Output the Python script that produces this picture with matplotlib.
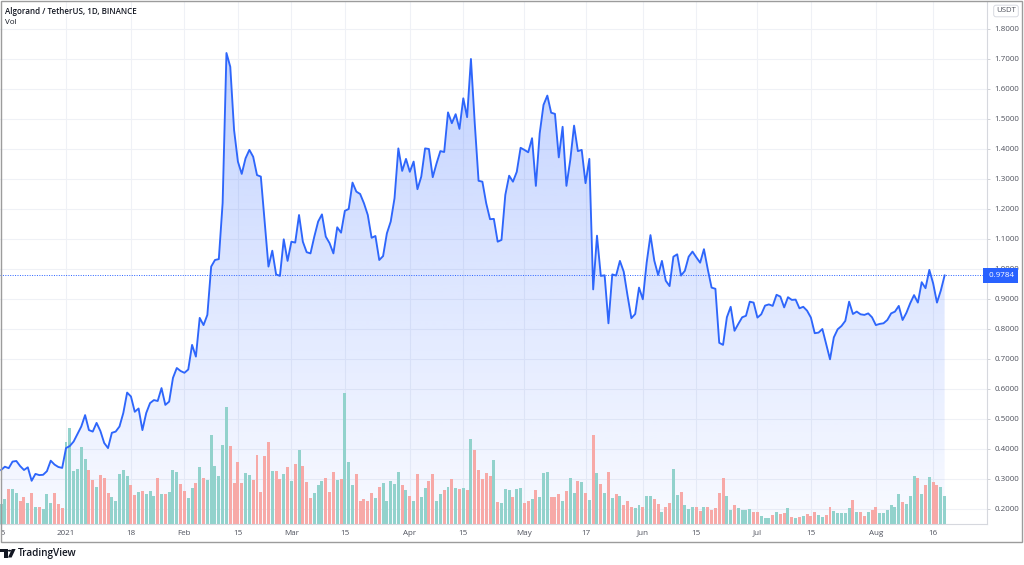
import numpy as np
import pandas as pd
import matplotlib
matplotlib.use("Agg")
import matplotlib.pyplot as plt
import matplotlib.dates as mdates
from matplotlib.patches import Rectangle, Polygon, Circle
from matplotlib.colors import LinearSegmentedColormap
import matplotlib.transforms as mtransforms

plt.rcParams['font.family'] = ['Open Sans', 'DejaVu Sans']

# ---------------- data ----------------
start_date = '2020-12-15'

close = [
    0.330, 0.341, 0.336, 0.358, 0.360, 0.343, 0.330, 0.339, 0.294, 0.317, 0.313, 0.314, 0.326, 0.361, 0.348, 0.340, 0.337,
    0.403, 0.410, 0.425, 0.450, 0.475, 0.513, 0.463, 0.458, 0.487, 0.460,
    0.420, 0.403, 0.454, 0.458, 0.475, 0.520, 0.588, 0.575, 0.524, 0.535,
    0.463, 0.520, 0.553, 0.563, 0.560, 0.603, 0.547, 0.558, 0.637, 0.670,
    0.660, 0.654, 0.665, 0.747, 0.708, 0.837, 0.813, 0.847, 1.008, 1.030,
    1.033, 1.220, 1.720, 1.674, 1.463, 1.358, 1.317, 1.369, 1.397, 1.374,
    1.313, 1.308, 1.160, 1.008, 1.061, 0.982, 0.977, 1.099, 1.027, 1.091,
    1.088, 1.180, 1.091, 1.056, 1.052, 1.108, 1.158, 1.182, 1.108, 1.086,
    1.052, 1.139, 1.121, 1.194, 1.200, 1.288, 1.258, 1.250, 1.219, 1.180,
    1.104, 1.110, 1.030, 1.043, 1.119, 1.158, 1.236, 1.402, 1.327, 1.367,
    1.324, 1.358, 1.266, 1.308, 1.402, 1.400, 1.306, 1.352, 1.393, 1.390,
    1.522, 1.486, 1.516, 1.467, 1.569, 1.506, 1.700, 1.486, 1.294, 1.291,
    1.219, 1.166, 1.167, 1.091, 1.097, 1.247, 1.311, 1.291, 1.324, 1.404,
    1.397, 1.389, 1.436, 1.277, 1.452, 1.547, 1.578, 1.521, 1.517, 1.372,
    1.474, 1.277, 1.363, 1.478, 1.393, 1.397, 1.286, 1.367, 0.932, 1.111,
    0.977, 0.979, 0.819, 0.982, 0.978, 1.027, 0.991, 0.911, 0.836, 0.850,
    0.938, 0.899, 1.021, 1.113, 1.028, 0.980, 1.027, 0.961, 0.943, 1.041,
    1.049, 0.978, 0.994, 1.041, 1.058, 1.039, 1.021, 1.066, 0.999, 0.938,
    0.934, 0.754, 0.747, 0.839, 0.874, 0.794, 0.817, 0.839, 0.844, 0.891,
    0.888, 0.838, 0.849, 0.878, 0.882, 0.877, 0.914, 0.908, 0.872, 0.906,
    0.897, 0.898, 0.869, 0.874, 0.861, 0.838, 0.786, 0.788, 0.800, 0.750,
    0.699, 0.772, 0.799, 0.810, 0.827, 0.891, 0.850, 0.858, 0.849, 0.847,
    0.852, 0.839, 0.813, 0.817, 0.819, 0.830, 0.852, 0.858, 0.877, 0.830,
    0.854, 0.886, 0.913, 0.888, 0.956, 0.936, 0.997, 0.952, 0.888, 0.928,
    0.9784,
]

volume = [
    20, 25, 35, 35, 31, 23, 27, 21, 31, 17, 17, 15, 30, 21, 31, 20, 16,
    82, 96, 53, 55, 77, 65, 54, 44, 37, 49,
    46, 31, 27, 23, 50, 54, 48, 39, 29, 32,
    33, 30, 33, 28, 46, 30, 30, 32, 54, 52,
    40, 33, 26, 36, 41, 57, 46, 44, 89, 58,
    48, 79, 117, 78, 41, 62, 41, 51, 49, 44,
    69, 32, 68, 82, 53, 53, 45, 50, 57, 43,
    60, 74, 58, 42, 26, 31, 39, 43, 46, 32,
    52, 44, 45, 131, 62, 39, 50, 23, 25, 23,
    31, 26, 37, 41, 23, 43, 40, 52, 39, 34,
    28, 23, 50, 27, 36, 43, 50, 23, 30, 34,
    37, 45, 36, 35, 36, 34, 85, 74, 54, 45,
    51, 48, 64, 22, 21, 35, 34, 27, 35, 36,
    21, 23, 25, 34, 27, 51, 52, 27, 27, 30,
    23, 33, 46, 31, 43, 42, 31, 24, 89, 51,
    40, 31, 52, 26, 30, 28, 19, 23, 17, 16,
    19, 17, 28, 28, 25, 20, 12, 17, 21, 55,
    29, 32, 19, 15, 17, 17, 13, 17, 17, 14,
    16, 31, 46, 28, 14, 19, 16, 14, 14, 15,
    12, 12, 8, 6, 6, 9, 12, 10, 11, 16,
    7, 6, 7, 8, 10, 8, 12, 9, 7, 9,
    17, 13, 11, 11, 11, 16, 24, 12, 12, 8,
    12, 14, 17, 11, 11, 14, 19, 17, 30, 22,
    20, 28, 48, 46, 30, 39, 47, 42, 39, 37,
    28,
]

tick_dates = ['2020-12-15', '2021-01-01', '2021-01-18', '2021-02-01', '2021-02-15',
              '2021-03-01', '2021-03-15', '2021-04-01', '2021-04-15', '2021-05-01',
              '2021-05-17', '2021-06-01', '2021-06-15', '2021-07-01', '2021-07-15',
              '2021-08-01', '2021-08-16']
tick_labels = ['15', '2021', '18', 'Feb', '15', 'Mar', '15', 'Apr', '15', 'May',
               '17', 'Jun', '15', 'Jul', '15', 'Aug', '16']
price_ticks = [0.2, 0.3, 0.4, 0.5, 0.6, 0.7, 0.8, 0.9, 1.0, 1.1, 1.2, 1.3, 1.4, 1.5, 1.6, 1.7, 1.8]
last_price = 0.9784
title_text = 'Algorand / TetherUS, 1D, BINANCE'

# ---------------- figure ----------------
W, H = 1024, 565
fig = plt.figure(figsize=(W / 100, H / 100), dpi=100)
fig.patch.set_facecolor('white')

dates = pd.date_range(start_date, periods=len(close), freq='D')
x = mdates.date2num(dates)
close_a = np.array(close)
vol_a = np.array(volume)
up = np.concatenate([[True], close_a[1:] >= close_a[:-1]])

plot_left, plot_right = 0, 987
plot_top, plot_bottom = 1, 524
pos = [plot_left / W, (H - plot_bottom) / H, (plot_right - plot_left) / W, (plot_bottom - plot_top) / H]

xmin = x[0] - 0.28
xmax = xmin + (plot_right - plot_left) / 3.82
ymin, ymax = 0.15, 1.8933

ax_fill = fig.add_axes(pos)
ax_vol = fig.add_axes(pos)
ax_line = fig.add_axes(pos)

tick_x = mdates.date2num(pd.to_datetime(tick_dates))
grid_c = '#eff1f6'

# background layer: grid + gradient area
ax_fill.set_facecolor('white')
poly = ax_fill.fill_between(x, close_a, ymin, facecolor='none', edgecolor='none')
cmap = LinearSegmentedColormap.from_list(
    'tvgrad', [(41 / 255, 98 / 255, 1, 0.03), (41 / 255, 98 / 255, 1, 0.28)])
grad = np.linspace(0, 1, 256).reshape(-1, 1)
im = ax_fill.imshow(grad, extent=[x[0], x[-1], ymin, close_a.max()], origin='lower',
                    aspect='auto', cmap=cmap, zorder=1, interpolation='bilinear')
im.set_clip_path(poly.get_paths()[0], transform=ax_fill.transData)
ax_fill.set_xlim(xmin, xmax)
ax_fill.set_ylim(ymin, ymax)
ax_fill.set_xticks(tick_x)
ax_fill.set_yticks(price_ticks)
ax_fill.grid(True, color=grid_c, linewidth=0.8, zorder=0)
ax_fill.set_axisbelow(True)
ax_fill.tick_params(length=0, labelbottom=False, labelleft=False)
for s in ax_fill.spines.values():
    s.set_visible(False)

# volume layer
ax_vol.set_facecolor('none')
vcolors = np.where(up, '#92d2cc', '#f7a9a7')
ax_vol.bar(x, vol_a, width=0.78, color=vcolors, linewidth=0, align='center')
ax_vol.set_xlim(xmin, xmax)
ax_vol.set_ylim(0, plot_bottom - plot_top)
ax_vol.axis('off')

# line layer
ax_line.set_facecolor('none')
ax_line.plot(x, close_a, color='#2e66fb', linewidth=1.35, solid_joinstyle='round', zorder=3)
ax_line.axhline(last_price, color='#2962FF', linewidth=0.7, linestyle=(0, (1, 1.5)), zorder=2)
ax_line.set_xlim(xmin, xmax)
ax_line.set_ylim(ymin, ymax)
ax_line.set_xticks(tick_x)
ax_line.set_xticklabels(tick_labels)
ax_line.set_yticks(price_ticks)
ax_line.set_yticklabels([f'{v:.4f}' for v in price_ticks])
ax_line.yaxis.tick_right()
lab_c = '#50535e'
ax_line.tick_params(axis='y', length=2, width=0.6, color='#c8cad0', pad=3.5,
                    labelsize=5.8, labelcolor=lab_c)
ax_line.tick_params(axis='x', length=0, pad=4, labelsize=5.8, labelcolor=lab_c)
for side in ['top', 'left']:
    ax_line.spines[side].set_visible(False)
for side in ['right', 'bottom']:
    ax_line.spines[side].set_color('#d6d8de')
    ax_line.spines[side].set_linewidth(0.8)

# last price label
trans = mtransforms.blended_transform_factory(ax_line.transAxes, ax_line.transData)
ax_line.text(1.0, last_price, ' ' + f'{last_price:.4f}', transform=trans, ha='left', va='center',
             fontsize=5.8, color='white', clip_on=False, zorder=10,
             bbox=dict(boxstyle='square,pad=0.45', facecolor='#2962FF', edgecolor='none'))

# texts in pixel coordinates
def fx(px):
    return px / W

def fy(py):
    return 1 - py / H

fig.text(fx(5), fy(12), title_text, fontsize=5.8, fontweight='semibold', color='#131722',
         ha='left', va='center')
fig.text(fx(5), fy(23), 'Vol', fontsize=5.8, color='#131722', ha='left', va='center')
fig.text(fx(1006), fy(11), 'USDT', fontsize=5.6, color='#50535e', ha='center', va='center',
         bbox=dict(boxstyle='round,pad=0.3,rounding_size=0.3', facecolor='white',
                   edgecolor='#d1d4dc', linewidth=0.6))

# outer frame
fig.add_artist(Rectangle((fx(0.5), fy(542)), fx(1022) - fx(0.5), fy(0.5) - fy(542),
                         transform=fig.transFigure, fill=False, edgecolor='#9c9c9c',
                         linewidth=1.0, zorder=20))

# TradingView logo
logo_c = '#131722'
t_shape = [(0, 549), (7.5, 549), (7.5, 557.5), (3.8, 557.5), (3.8, 552.3), (0, 552.3)]
fig.add_artist(Polygon([(fx(a), fy(b)) for a, b in t_shape], closed=True,
                       transform=fig.transFigure, facecolor=logo_c, edgecolor='none'))
fig.add_artist(Circle((fx(9.6), fy(550.7)), 1.7 / W, transform=fig.transFigure,
                      facecolor=logo_c, edgecolor='none'))
v_shape = [(11.8, 549), (15.6, 549), (11.6, 557.5), (8.0, 557.5)]
fig.add_artist(Polygon([(fx(a), fy(b)) for a, b in v_shape], closed=True,
                       transform=fig.transFigure, facecolor=logo_c, edgecolor='none'))
fig.text(fx(17.5), fy(553.5), 'TradingView', fontsize=7.2, fontweight='semibold', color=logo_c,
         ha='left', va='center')

fig.savefig('out.png', dpi=100, facecolor='white')
